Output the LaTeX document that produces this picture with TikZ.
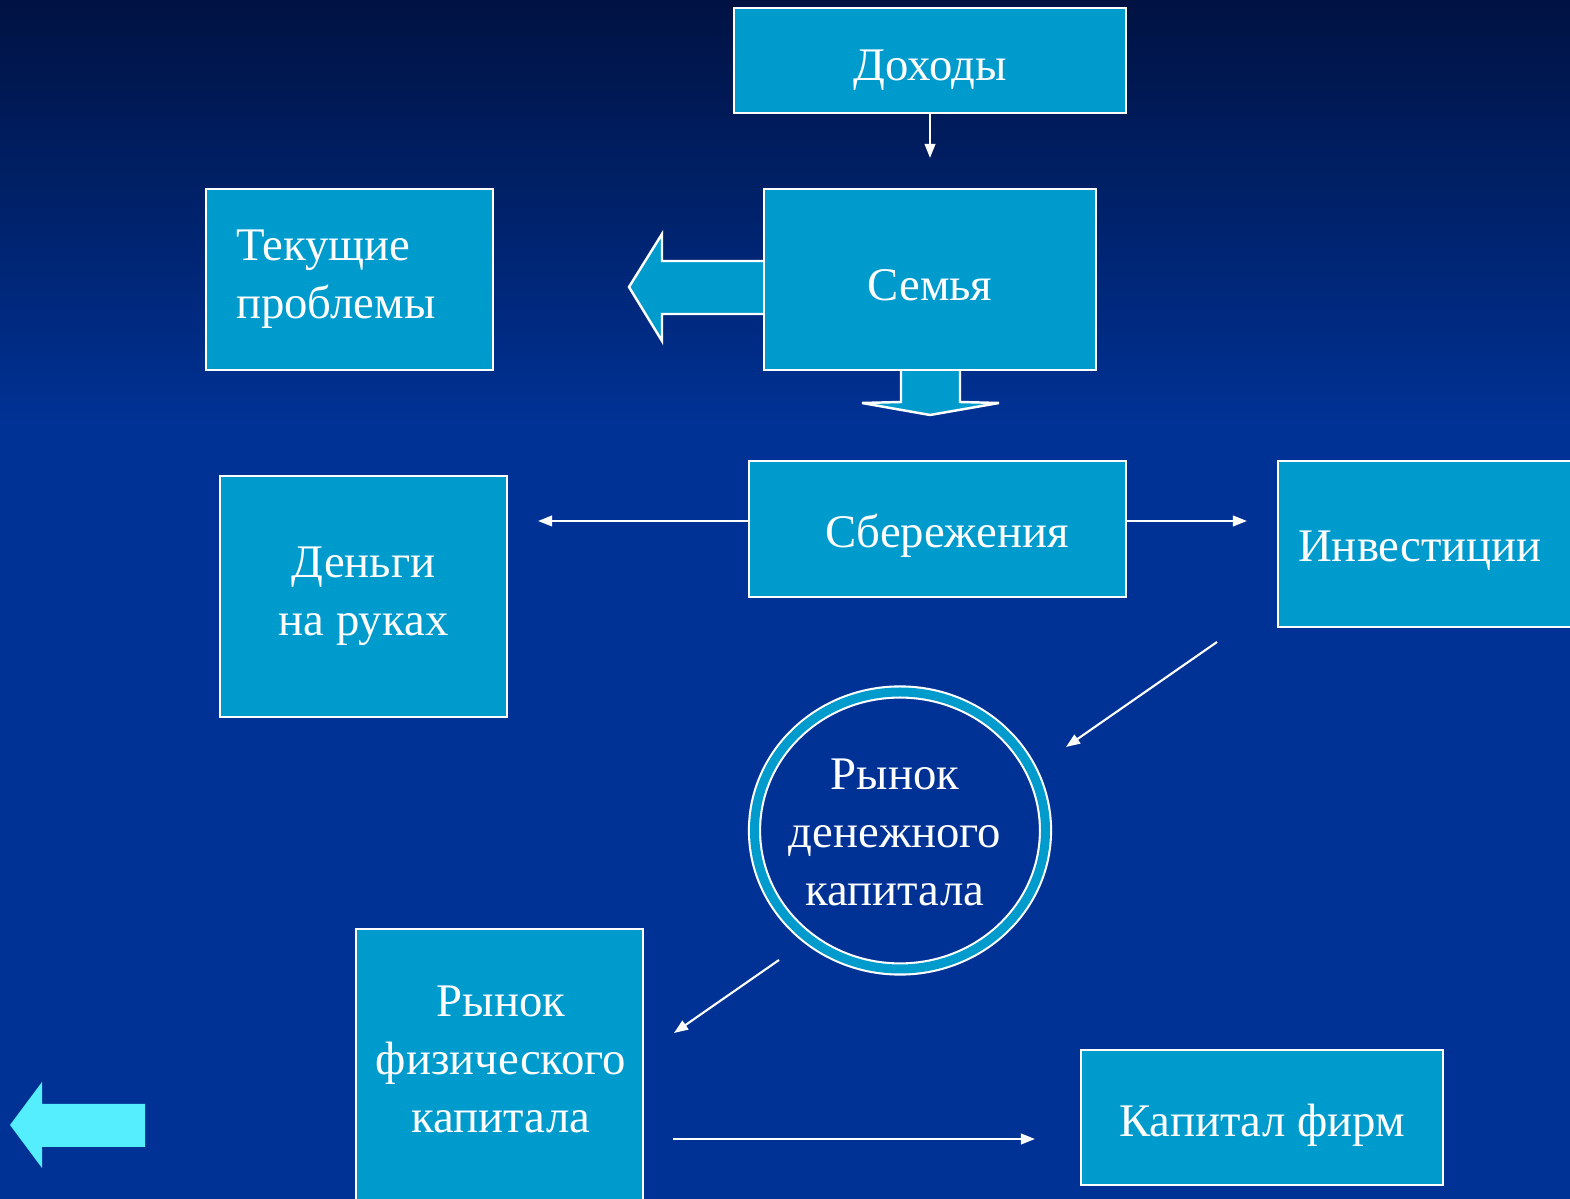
\documentclass[tikz,border=0pt]{standalone}
\usepackage{fontspec}
\setmainfont{Liberation Serif}
\usetikzlibrary{arrows.meta,shapes.geometric}
\definecolor{boxfill}{RGB}{0,155,205}
\definecolor{bgtop}{RGB}{0,18,66}
\definecolor{bgmid}{RGB}{0,50,150}
\definecolor{arrowcyan}{RGB}{85,238,255}
\newcommand\lowtext[2][0.08cm]{\raisebox{-#1}[\height][\depth]{#2}}
\begin{document}
\begin{tikzpicture}[
 box/.style={draw=white, line width=0.7pt, fill=boxfill, text=white,
   font=\fontsize{13.3}{16.5}\selectfont, align=center, inner sep=0pt},
 txt/.style={text=white, font=\fontsize{13.3}{16.5}\selectfont, align=center, inner sep=0pt},
 conn/.style={draw=white, line width=0.6pt, -{Triangle[length=4pt,width=3pt]}},
 block/.style={fill=boxfill},
 blockline/.style={draw=white, line width=0.7pt, line join=miter}]
\useasboundingbox (0,0) rectangle (15.70,-11.99);
\begin{scope}
\clip (0,0) rectangle (15.70,-11.99);
% background
\fill[bgmid] (0,0) rectangle (15.70,-11.99);
\shade[top color=bgtop, bottom color=bgmid] (0,0) rectangle (15.70,-4.3);

% nodes
\node[box, minimum width=3.92cm, minimum height=1.05cm] (dox) at (9.30,-0.605) {\lowtext[0.1cm]{Доходы}};
\node[box, minimum width=3.32cm, minimum height=1.81cm] (fam) at (9.30,-2.795) {\lowtext[0.06cm]{Семья}};
\node[box, minimum height=1.81cm, text width=2.27cm, inner xsep=0.3cm, align=left] (cur) at (3.495,-2.795) {Текущие\\проблемы};
\node[box, minimum width=3.77cm, minimum height=1.36cm] (sav) at (9.375,-5.29) {\hspace*{0.19cm}\lowtext[0.07cm]{Сбережения}};
\node[box, minimum width=2.87cm, minimum height=2.41cm] (cash) at (3.635,-5.965) {Деньги\\на руках};
\node[box, anchor=west, minimum height=1.66cm, text width=2.9cm, inner xsep=0.2cm, align=left] (inv) at (12.77,-5.44) {\lowtext[0.07cm]{Инвестиции}};
\node[ellipse, draw=white, line width=0.6pt, double=boxfill, double distance=0.09cm,
      minimum width=2.91cm, minimum height=2.77cm] (mkt) at (9.00,-8.305) {};
\node[txt] (mkttxt) at (8.95,-8.32) {Рынок\\денежного\\капитала};
\node[box, minimum width=2.87cm, minimum height=2.82cm] (phys) at (4.995,-10.70) {};
\node[txt] (phystxt) at (5.01,-10.59) {Рынок\\физического\\капитала};
\node[box, minimum width=3.62cm, minimum height=1.35cm] (firm) at (12.62,-11.175) {\lowtext[0.08cm]{Капитал фирм}};

% block arrows from family
\fill[block] (fam.west |- 0,-2.61) -- (6.62,-2.61) -- (6.62,-2.34) -- (6.29,-2.87)
   -- (6.62,-3.41) -- (6.62,-3.14) -- (fam.west |- 0,-3.14) -- cycle;
\draw[blockline] (fam.west |- 0,-2.61) -- (6.62,-2.61) -- (6.62,-2.34) -- (6.29,-2.87)
   -- (6.62,-3.41) -- (6.62,-3.14) -- (fam.west |- 0,-3.14);
\fill[block] (9.01,0 |- fam.south) -- (9.01,-4.02) -- (8.62,-4.03) -- (9.30,-4.15)
   -- (9.99,-4.03) -- (9.60,-4.02) -- (9.60,0 |- fam.south) -- cycle;
\draw[blockline] (9.01,0 |- fam.south) -- (9.01,-4.02) -- (8.62,-4.03) -- (9.30,-4.15)
   -- (9.99,-4.03) -- (9.60,-4.02) -- (9.60,0 |- fam.south);

% connectors
\coordinate (a1) at (9.30,-1.58);
\draw[conn] (dox.south) -- (a1);
\coordinate (a2) at (5.38,-5.21);
\draw[conn] (a2 -| sav.west) -- (a2);
\coordinate (a3) at (12.47,-5.21);
\draw[conn] (a3 -| sav.east) -- (a3);
\coordinate (d1s) at (12.17,-6.42);
\coordinate (d1e) at (10.66,-7.47);
\draw[conn] (d1s) -- (d1e);
\coordinate (d2s) at (7.79,-9.60);
\coordinate (d2e) at (6.74,-10.33);
\draw[conn] (d2s) -- (d2e);
\coordinate (h1s) at (6.73,-11.39);
\coordinate (h1e) at (10.35,-11.39);
\draw[conn] (h1s) -- (h1e);

% bottom-left back arrow
\fill[arrowcyan] (1.45,-11.04) -- (0.42,-11.04) -- (0.42,-10.82) -- (0.10,-11.25)
   -- (0.42,-11.68) -- (0.42,-11.47) -- (1.45,-11.47) -- cycle;
\end{scope}
\end{tikzpicture}
\end{document}
